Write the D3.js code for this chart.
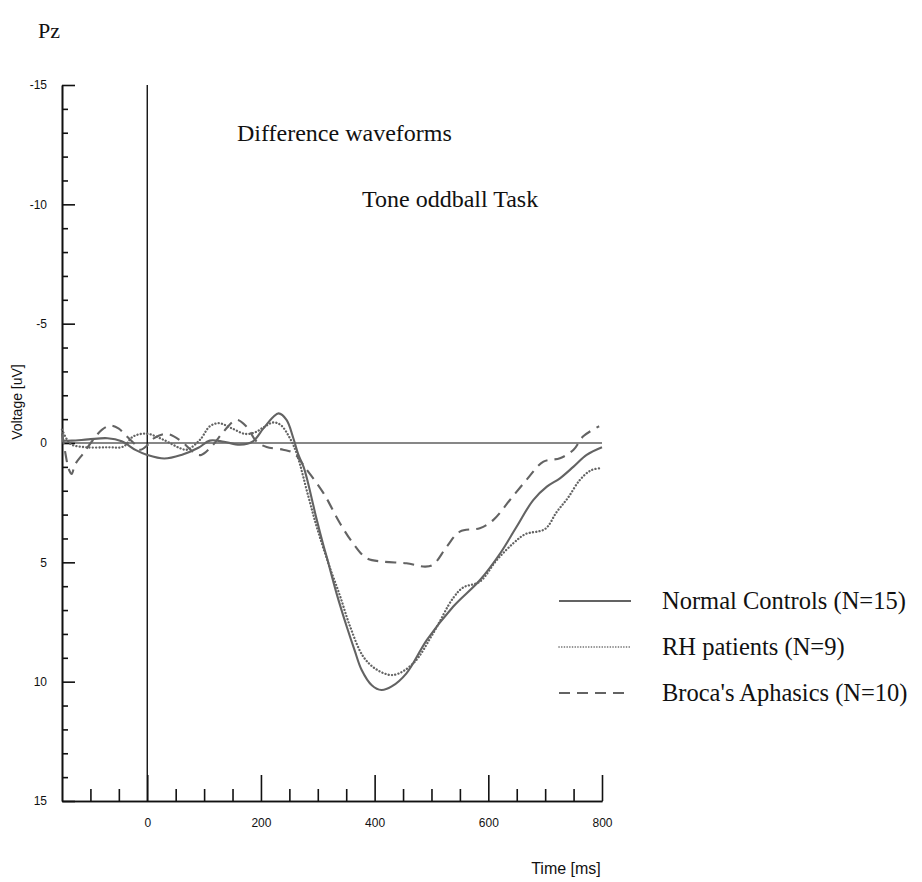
<!DOCTYPE html>
<html>
<head>
<meta charset="utf-8">
<script src="https://cdn.jsdelivr.net/npm/d3@7"></script>
<style>
  html, body { margin: 0; padding: 0; background: #fff; }
  svg { display: block; }
  .serif { font-family: "Liberation Serif", "Times New Roman", serif; fill: #111; }
  .sans { font-family: "Liberation Sans", Arial, sans-serif; fill: #111; }
</style>
</head>
<body>
<svg id="chart" width="922" height="882"></svg>
<script>
// Pz difference waveforms (ms, µV; positive plotted downward)
const normalT = [-150,-133,-104,-70,-45,-20,0,30,60,90,110,135,163,186,204,222,231,245,257,266,275,281,292,298,310,316,333,351,365,377,395,412,430,456,492,538,585,621,650,679,703,726,750,773,800];
const normalV = [-0.1,-0.1,-0.15,-0.2,-0.07,0.3,0.5,0.65,0.5,0.2,-0.1,-0.05,0.07,-0.07,-0.6,-1.1,-1.24,-0.97,-0.2,0.5,1.0,1.5,2.6,3.2,4.3,4.8,6.3,7.7,8.7,9.5,10.15,10.35,10.2,9.65,8.25,6.86,5.75,4.62,3.5,2.39,1.83,1.48,0.99,0.5,0.18];

const rhT = [-150,-140,-133,-107,-70,-42,-25,-1,28,58,70,93,110,126,150,172,190,204,222,235,251,263,283,298,318,339,357,380,404,433,468,503,538,556,585,615,644,665,700,720,740,761,780,795];
const rhV = [-0.56,-0.1,0.07,0.18,0.18,0.15,-0.27,-0.39,-0.14,0.22,0.28,-0.14,-0.7,-0.83,-0.6,-0.38,-0.45,-0.65,-0.86,-0.75,-0.2,0.45,2.2,3.5,5.0,6.4,7.7,8.95,9.5,9.72,9.23,7.97,6.5,6.05,5.81,4.9,4.2,3.82,3.6,2.9,2.3,1.55,1.15,1.06];

const brocaT = [-150,-145,-138,-133,-127,-112,-95,-80,-65,-50,-39,-22,-12,0,12,35,60,85,95,116,134,157,175,192,210,239,257,280,310,339,362,386,415,456,489,503,527,550,585,609,638,667,697,726,750,767,795];
const brocaV = [-0.4,0.3,1.1,1.3,0.9,0.42,-0.14,-0.55,-0.73,-0.6,-0.35,0.05,0.28,0.1,-0.2,-0.38,-0.07,0.45,0.5,0.07,-0.47,-0.97,-0.68,-0.07,0.17,0.28,0.42,1.1,2.1,3.36,4.2,4.83,4.97,5.04,5.18,5.1,4.34,3.71,3.57,3.22,2.39,1.55,0.78,0.64,0.28,-0.28,-0.7];

const seriesNames = ["Normal Controls (N=15)", "RH patients (N=9)", "Broca's Aphasics (N=10)"];
const seriesDash = ["none", "0.1,3.2", "11,7"];

const xMajorTicks = [0, 200, 400, 600, 800];
const xMinorTicks = [-100, -50, 50, 100, 150, 250, 300, 350, 450, 500, 550, 650, 700, 750];
const yMajorTicks = [-15, -10, -5, 0, 5, 10, 15];
const yMinorTicks = d3.range(-14, 15).filter(v => v % 5 !== 0);

const svg = d3.select("#chart");
const ink = "#111";
const curveInk = "#636363";

const x = d3.scaleLinear().domain([-150, 800]).range([62, 602]);
const y = d3.scaleLinear().domain([-15, 15]).range([85, 801]);

// Left voltage axis, ticks pointing inward
const yAxisMinor = d3.axisLeft(y).tickValues(yMinorTicks).tickSize(-6).tickSizeOuter(0).tickFormat("");
const yAxisMajor = d3.axisLeft(y).tickValues(yMajorTicks).tickSize(-13).tickSizeOuter(0).tickPadding(15)
  .tickFormat(d => String(d));
svg.append("g").attr("transform", `translate(${x(-150)},0)`).call(yAxisMinor);
svg.append("g").attr("transform", `translate(${x(-150)},0)`).call(yAxisMajor);

// Bottom time axis, ticks pointing upward
const xAxisMinor = d3.axisBottom(x).tickValues(xMinorTicks).tickSize(-12).tickSizeOuter(0).tickFormat("");
const xAxisMajor = d3.axisBottom(x).tickValues(xMajorTicks).tickSize(-26).tickSizeOuter(0).tickPadding(17)
  .tickFormat(d => String(d));
svg.append("g").attr("transform", `translate(0,${y(15)})`).call(xAxisMinor);
svg.append("g").attr("transform", `translate(0,${y(15)})`).call(xAxisMajor);

svg.selectAll(".domain, .tick line").attr("stroke", ink).attr("stroke-width", 1.6);
svg.selectAll(".tick text").attr("class", "sans").style("font-size", "12px").attr("fill", ink);

// Zero reference lines
svg.append("line")
  .attr("x1", x(0)).attr("x2", x(0)).attr("y1", y(-15)).attr("y2", y(15))
  .attr("stroke", ink).attr("stroke-width", 1.4);
svg.append("line")
  .attr("x1", x(-150)).attr("x2", x(800)).attr("y1", y(0)).attr("y2", y(0))
  .attr("stroke", ink).attr("stroke-width", 1.2);

// Waveforms
const series = [
  { t: normalT, v: normalV },
  { t: rhT, v: rhV },
  { t: brocaT, v: brocaV }
];
const line = d3.line().x(d => x(d[0])).y(d => y(d[1])).curve(d3.curveCatmullRom.alpha(0.5));
series.forEach((s, i) => {
  const pts = s.t.map((t, k) => [t, s.v[k]]);
  svg.append("path")
    .attr("d", line(pts))
    .attr("fill", "none")
    .attr("stroke", curveInk)
    .attr("stroke-width", i === 1 ? 2.3 : 2.1)
    .attr("stroke-linecap", i === 1 ? "round" : "butt")
    .attr("stroke-dasharray", seriesDash[i]);
});

// Legend
const legendY = [601, 647, 693];
seriesNames.forEach((name, i) => {
  svg.append("line")
    .attr("x1", 559).attr("x2", 631).attr("y1", legendY[i]).attr("y2", legendY[i])
    .attr("stroke", curveInk)
    .attr("stroke-width", i === 1 ? 1.6 : 2)
    .attr("stroke-linecap", i === 1 ? "round" : "butt")
    .attr("stroke-dasharray", i === 1 ? "0.1,2.6" : seriesDash[i]);
  svg.append("text").attr("class", "serif")
    .attr("x", 662).attr("y", legendY[i] + 8)
    .style("font-size", "24.5px")
    .text(name);
});

// Titles and axis names
svg.append("text").attr("class", "serif").attr("x", 38).attr("y", 38).style("font-size", "22px").text("Pz");
svg.append("text").attr("class", "serif").attr("x", 237).attr("y", 141).style("font-size", "24px").text("Difference waveforms");
svg.append("text").attr("class", "serif").attr("x", 362).attr("y", 207).style("font-size", "24px").text("Tone oddball Task");
svg.append("text").attr("class", "sans")
  .attr("transform", `translate(22,${402}) rotate(-90)`)
  .attr("text-anchor", "middle").style("font-size", "14px").text("Voltage [uV]");
svg.append("text").attr("class", "sans")
  .attr("x", 566).attr("y", 874).attr("text-anchor", "middle")
  .style("font-size", "16px").text("Time [ms]");
</script>
</body>
</html>
